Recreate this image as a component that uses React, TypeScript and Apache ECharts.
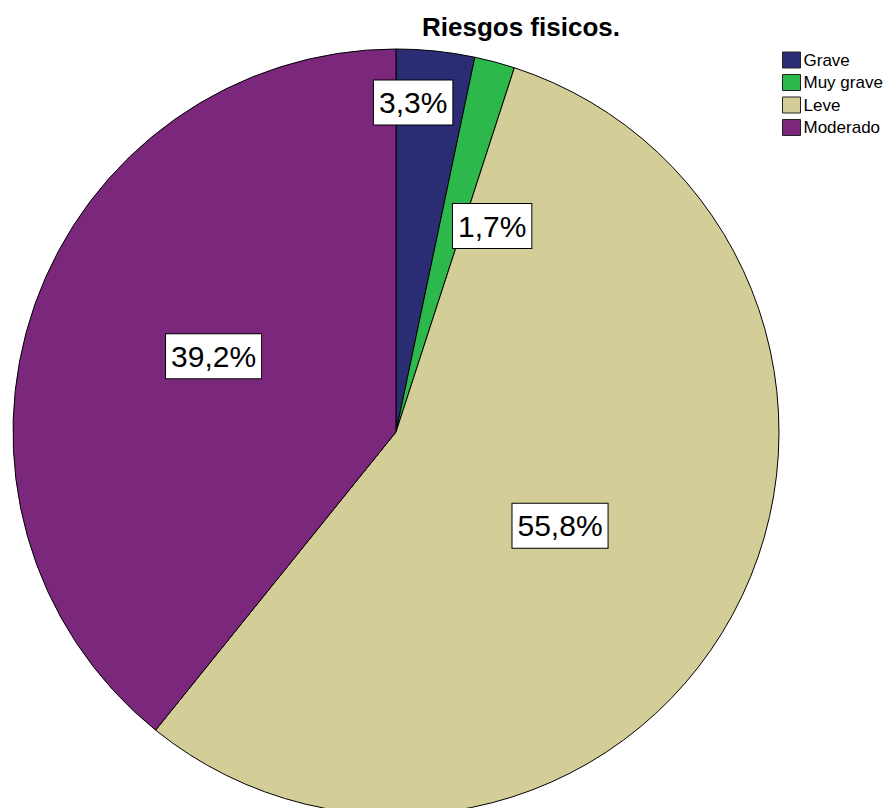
import React, { useEffect, useRef } from "react";
import * as echarts from "echarts";

const categories = ["Grave", "Muy grave", "Leve", "Moderado"];
const percents = [3.3, 1.7, 55.8, 39.2];
const colors = ["#2B2D74", "#2DB84B", "#D3CE97", "#7B277C"];
const titleText = "Riesgos fisicos.";
// label nudges (px) relative to ECharts' default inside position
const labelShift: [number, number][] = [
  [-3, -136],
  [46, -18],
  [-7, 1],
  [1, -11],
];

export default function App() {
  const ref = useRef<HTMLDivElement>(null);
  useEffect(() => {
    if (!ref.current) return;
    const chart = echarts.init(ref.current, null, { renderer: "svg" });
    chart.setOption({
      animation: false,
      backgroundColor: "#ffffff",
      title: {
        text: titleText,
        left: 422,
        top: 14,
        padding: 0,
        textStyle: {
          fontFamily: "Arial, 'Liberation Sans', sans-serif",
          fontSize: 26,
          fontWeight: "bold",
          color: "#000",
        },
      },
      legend: {
        orient: "vertical",
        left: 782,
        top: 50,
        padding: 0,
        itemWidth: 18,
        itemHeight: 16,
        itemGap: 2.5,
        icon: "rect",
        selectedMode: false,
        itemStyle: { borderColor: "#222", borderWidth: 1 },
        textStyle: {
          fontFamily: "Arial, 'Liberation Sans', sans-serif",
          fontSize: 17,
          lineHeight: 16,
          color: "#000",
          padding: [4, 0, 0, -2],
        },
        data: categories,
      },
      series: [
        {
          type: "pie",
          center: [396, 432],
          radius: 383,
          startAngle: 90,
          clockwise: true,
          silent: true,
          itemStyle: { borderColor: "#000", borderWidth: 1 },
          label: {
            show: true,
            position: "inside",
            formatter: (p: any) => p.value.toFixed(1).replace(".", ",") + "%",
            fontFamily: "Arial, 'Liberation Sans', sans-serif",
            fontSize: 30,
            lineHeight: 38,
            color: "#000",
            backgroundColor: "#fff",
            borderColor: "#000",
            borderWidth: 1,
            padding: [3, 5],
          },
          labelLayout: (p: any) => ({
            dx: labelShift[p.dataIndex][0],
            dy: labelShift[p.dataIndex][1],
          }),
          labelLine: { show: false },
          data: categories.map((c, i) => ({
            name: c,
            value: percents[i],
            itemStyle: { color: colors[i] },
          })),
        },
      ],
    });
    return () => chart.dispose();
  }, []);
  return (
    <div
      ref={ref}
      style={{ position: "absolute", left: 0, top: 0, width: 890, height: 808 }}
    />
  );
}
